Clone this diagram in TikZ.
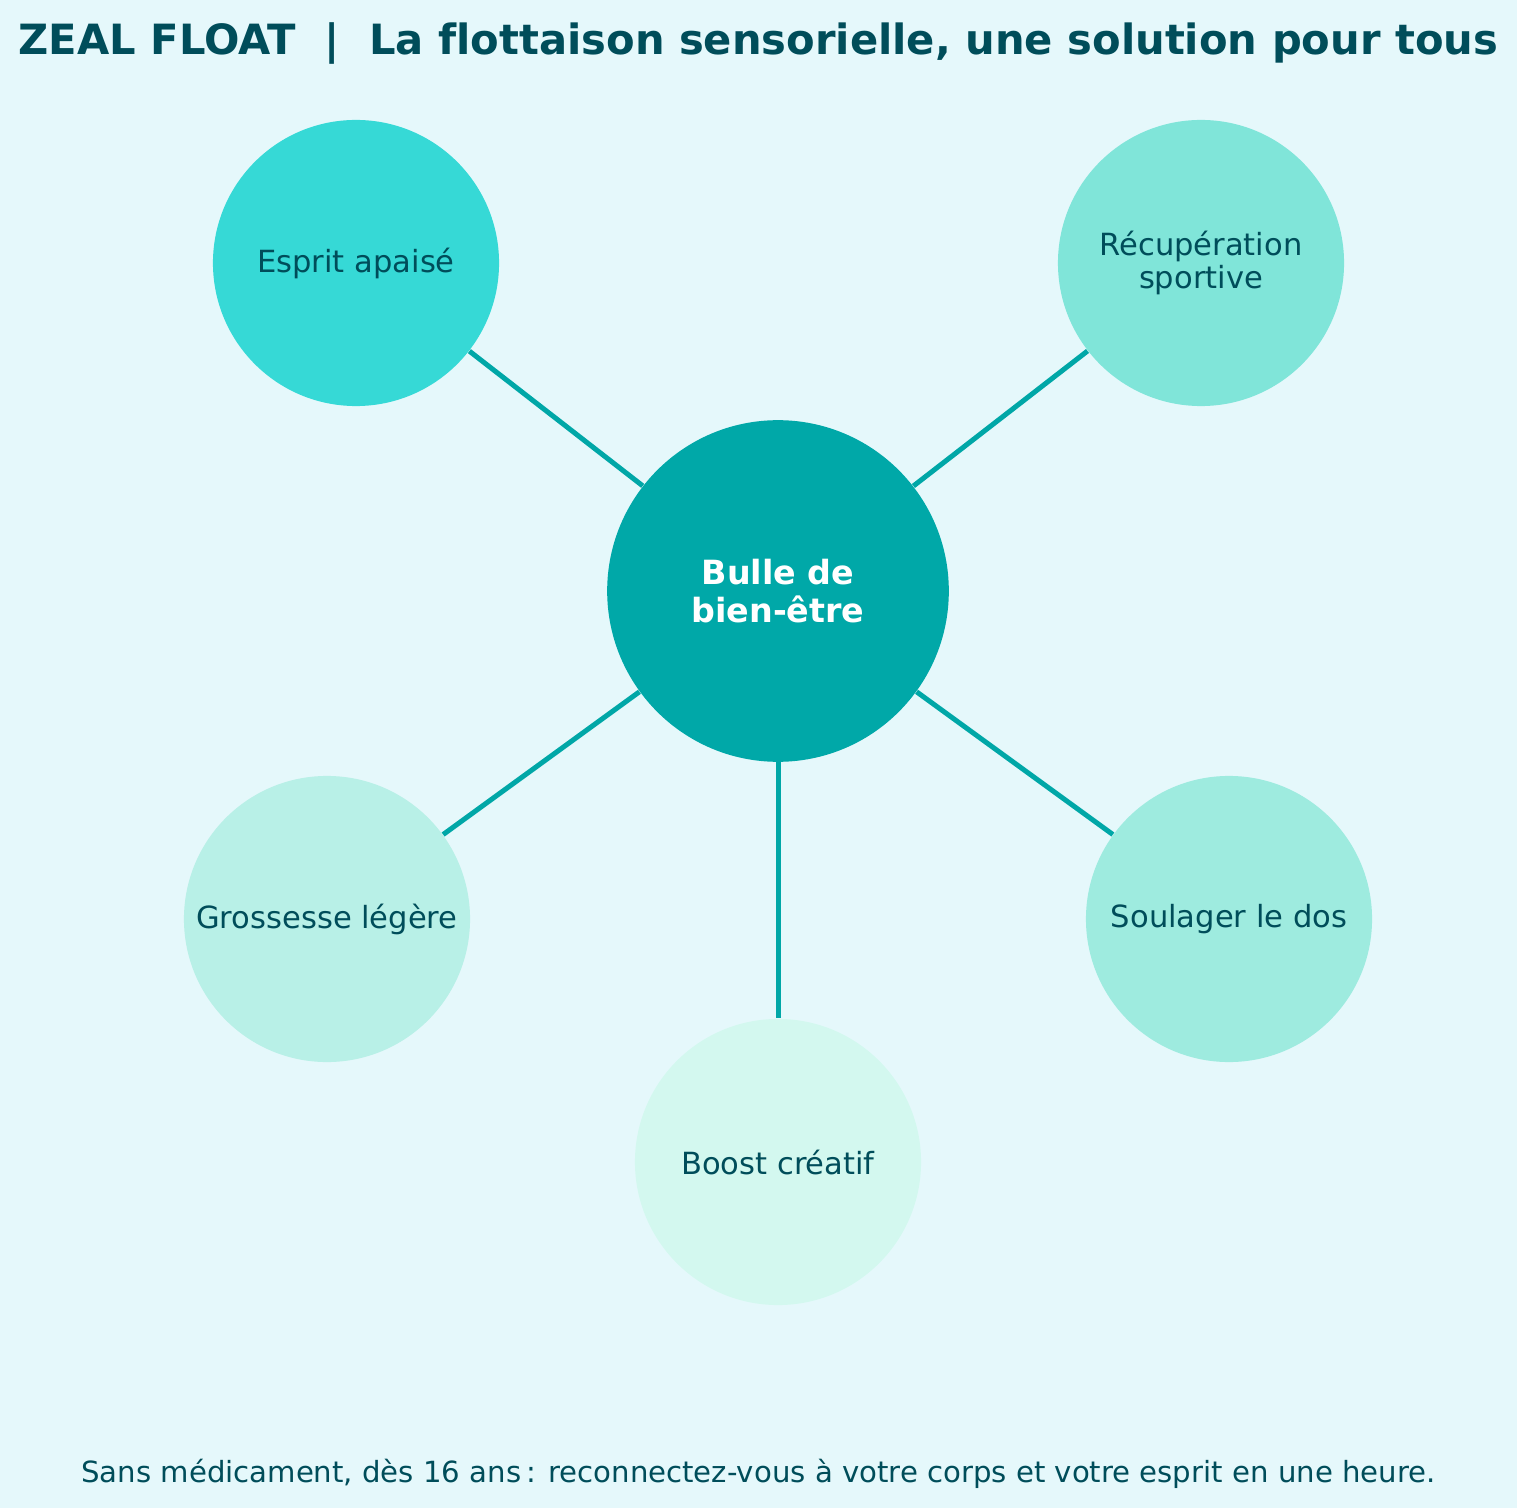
\documentclass[tikz,border=0pt]{standalone}
\usepackage{fontspec}
\setmainfont{DejaVu Sans}[Ligatures=NoCommon]
\definecolor{bgcyan}{HTML}{E5F8FB}
\definecolor{deepteal}{HTML}{004D5A}
\definecolor{hubteal}{HTML}{00A8A8}
\definecolor{linkteal}{HTML}{00A7A7}
\definecolor{espritc}{HTML}{36D9D6}
\definecolor{recupc}{HTML}{80E5D9}
\definecolor{dosc}{HTML}{9EEBDF}
\definecolor{grossc}{HTML}{B8F0E7}
\definecolor{boostc}{HTML}{D3F8EF}
\begin{document}
\begin{tikzpicture}[x=0.36pt,y=-0.36pt,
  bubble/.style={circle,inner sep=0pt,minimum size=103pt,text=deepteal,
    font=\fontsize{11}{12}\selectfont,align=center},
  hub/.style={circle,inner sep=0pt,minimum size=123pt,fill=hubteal,text=white,
    font=\fontsize{12}{13.4}\selectfont\bfseries,align=center},
  link/.style={linkteal,line width=1.8pt}]
\fill[bgcyan] (0,0) rectangle (1517,1508);
\useasboundingbox (0,0) rectangle (1517,1508);
\path
(758.5,55) node[anchor=base,text=deepteal,font=\fontsize{15}{18}\selectfont\bfseries] (title)
  {ZEAL FLOAT~~|~~La flottaison sensorielle, une solution pour tous}
(778,591) node[hub] (hub) {Bulle de\\bien-être}
(356,263) node[bubble,fill=espritc] (esprit) {Esprit apaisé}
(1201,263) node[bubble,fill=recupc] (recup) {Récupération\\sportive}
(327,919) node[bubble,fill=grossc] (gross) {Grossesse légère}
(1229,919) node[bubble,fill=dosc] (dos) {Soulager le dos}
(778,1162) node[bubble,fill=boostc] (boost) {Boost créatif}
(758.5,1482) node[anchor=base,text=deepteal,font=\fontsize{10.5}{12}\selectfont] (foot)
  {Sans médicament, dès 16 ans\,: reconnectez-vous à votre corps et votre esprit en une heure.};
%\draw[link] (hub) -- (title);
\draw[link] (hub)--(esprit);
\draw[link] (hub)--(recup);
\draw[link] (hub)--(gross);
\draw[link] (hub)--(dos);
\draw[link] (hub)--(boost);
\end{tikzpicture}
\end{document}
